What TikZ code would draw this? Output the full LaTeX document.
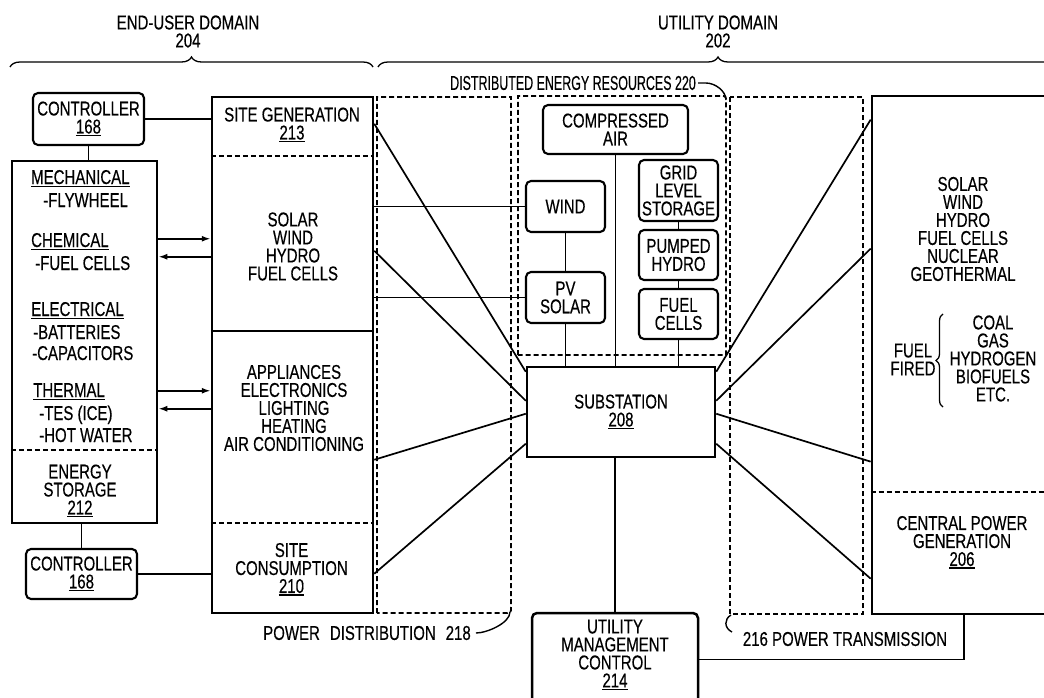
\documentclass[tikz,border=0pt]{standalone}
\usepackage{fontspec}
\setmainfont[FakeStretch=0.75,FakeBold=0.35]{Liberation Sans}
\usetikzlibrary{arrows.meta,calc,decorations.pathreplacing}
\newcommand{\uln}[1]{\setbox0\hbox{#1}\rlap{\rule[-3pt]{\wd0}{1.5pt}}\box0}
\begin{document}
\begin{tikzpicture}[x=1pt,y=-1pt,
  every node/.style={font=\fontsize{20}{18}\selectfont},
  txt/.style={inner sep=0pt, align=center},
  box/.style={draw, line width=2.5pt, inner sep=0pt, align=center},
  rbox/.style={draw, line width=2.1pt, rounded corners=5pt, inner sep=0pt, align=center},
  dbox/.style={line width=1.8pt, dash pattern=on 5pt off 3pt},
  wire/.style={line width=1.7pt},
  thin wire/.style={line width=1.2pt},
  arr/.style={line width=2pt, -{Latex[length=9pt,width=6pt]}},
  bracesty/.style={line width=1.3pt, decorate, decoration={brace, amplitude=10pt}},
  hook/.style={line width=1.4pt},
]
\path[use as bounding box, fill=white] (0,0) rectangle (1044,698);

% domain labels and braces
\node[txt] (eud) at (188,31.5) {END-USER DOMAIN\\204};
\node[txt] (ud) at (718,31.5) {UTILITY DOMAIN\\202};
\draw[bracesty] (10,67) -- (373,67);
\draw[bracesty] (378,67) -- (1058,67);

% end-user column
\node[rbox, minimum width=111pt, minimum height=52pt] (ctrlA) at (88.5,119) {CONTROLLER\\\uln{168}};
\node[box, minimum width=145pt, minimum height=362pt] (es) at (84.5,342) {};
\draw[dbox] ($(es.north west)+(0,290)$) -- ($(es.north east)+(0,290)$);
\node[txt, anchor=base west] (m1) at (31,184) {\uln{MECHANICAL}};
\node[txt, anchor=base west] (m2) at (43,207) {-FLYWHEEL};
\node[txt, anchor=base west] (c1) at (31,247) {\uln{CHEMICAL}};
\node[txt, anchor=base west] (c2) at (35,270) {-FUEL CELLS};
\node[txt, anchor=base west] (e1) at (31,316) {\uln{ELECTRICAL}};
\node[txt, anchor=base west] (e2) at (33,339) {-BATTERIES};
\node[txt, anchor=base west] (e3) at (32,360) {-CAPACITORS};
\node[txt, anchor=base west] (t1) at (33,397) {\uln{THERMAL}};
\node[txt, anchor=base west] (t2) at (39,420) {-TES (ICE)};
\node[txt, anchor=base west] (t3) at (39,442) {-HOT WATER};
\node[txt] (esl) at (80,491) {ENERGY\\STORAGE\\\uln{212}};
\node[rbox, minimum width=111pt, minimum height=50pt] (ctrlB) at (81.5,574) {CONTROLLER\\\uln{168}};

% site box
\node[box, minimum width=161pt, minimum height=516pt] (site) at (292.5,355) {};
\draw[dbox] ($(site.north west)+(0,60)$) -- ($(site.north east)+(0,60)$);
\draw[wire] ($(site.north west)+(0,235)$) -- ($(site.north east)+(0,235)$);
\draw[dbox] ($(site.north west)+(0,427)$) -- ($(site.north east)+(0,427)$);
\node[txt] (sg) at (292,125) {SITE GENERATION\\\uln{213}};
\node[txt] (sgl) at (293,246.5) {SOLAR\\WIND\\HYDRO\\FUEL CELLS};
\node[txt] (app) at (294,408) {APPLIANCES\\ELECTRONICS\\LIGHTING\\HEATING\\AIR CONDITIONING};
\node[txt] (sc) at (291.5,569.5) {SITE\\CONSUMPTION\\\uln{210}};

% power distribution
\draw[dbox] (377,613) -- (377,97) -- (511,97) -- (511,607) .. controls (511,613) .. (505,613) -- cycle;
\node[txt] (pdl) at (367,633) {POWER\hspace{10pt}DISTRIBUTION\hspace{10pt}218};
\coordinate (pdc) at (510,612);
\draw[hook] ($(pdl.east)+(5,0)$) .. controls +(11,0) and +(0,11) .. (pdc);

% distributed energy resources
\draw[dbox] (518,355) -- (518,96) -- (720,96) .. controls (726,96) .. (726,102) -- (726,355) -- cycle;
\node[txt, anchor=west] (derl) at (450,83) {\scalebox{0.83}[1]{DISTRIBUTED ENERGY RESOURCES 220}};
\coordinate (derc) at (726,100);
\draw[hook] ($(derl.east)+(2,0)$) -- ++(8,0) .. controls +(9,0) and +(0,-9) .. (derc);
\node[rbox, minimum width=145pt, minimum height=49pt] (cair) at (615.5,129.5) {COMPRESSED\\AIR};
\node[rbox, minimum width=79pt, minimum height=51pt] (wind) at (565.5,206.5) {WIND};
\node[rbox, minimum width=79pt, minimum height=51pt] (pv) at (565.5,297.5) {PV\\SOLAR};
\node[rbox, minimum width=79pt, minimum height=61pt] (grid) at (678.5,190.5) {GRID\\LEVEL\\STORAGE};
\node[rbox, minimum width=79pt, minimum height=50pt] (pump) at (678.5,255) {PUMPED\\HYDRO};
\node[rbox, minimum width=79pt, minimum height=50pt] (fuel) at (678.5,314) {FUEL\\CELLS};

% substation and utility management
\node[box, minimum width=188pt, minimum height=90pt] (sub) at (621,412) {SUBSTATION\\\uln{208}};
\node[rbox, line width=2.5pt, minimum width=166pt, minimum height=93pt] (umc) at (615,659.5) {};
\node[txt] (umct) at (615,655) {UTILITY\\MANAGEMENT\\CONTROL\\\uln{214}};

% power transmission
\draw[dbox] (730,97) rectangle (863,614);
\node[txt] (ptl) at (845,639) {216 POWER TRANSMISSION};
\coordinate (ptc) at (731,615);
\coordinate (ptd) at (732,632);
\draw[hook] (ptc) .. controls (724,619) and (724,628) .. (ptd);

% central power generation
\node[box, line width=2.7pt, minimum width=188pt, minimum height=518pt] (cpg) at (966,355) {};
\draw[dbox] ($(cpg.north west)+(0,397)$) -- ($(cpg.north east)+(0,397)$);
\node[txt] (cpgl) at (963,229) {SOLAR\\WIND\\HYDRO\\FUEL CELLS\\NUCLEAR\\GEOTHERMAL};
\node[txt] (ff) at (913,359.5) {FUEL\\FIRED};
\draw[line width=1.3pt, decorate, decoration={brace, amplitude=7pt}] (943,407) -- (943,314);
\node[txt] (ffl) at (993,358.5) {COAL\\GAS\\HYDROGEN\\BIOFUELS\\ETC.};
\node[txt] (cpgt) at (962,542.5) {CENTRAL POWER\\GENERATION\\\uln{206}};

% connectors: end-user side
\draw[wire] (ctrlA.east) -- (ctrlA.east -| site.west);
\draw[wire] (ctrlA.south) -- (ctrlA.south |- es.north);
\draw[wire] (ctrlB.north) -- (ctrlB.north |- es.south);
\draw[wire] (ctrlB.east) -- (ctrlB.east -| site.west);
\draw[arr] ($(es.north east)+(0,79)$) -- ($(site.north west)+(0,143)$);
\draw[arr] ($(site.north west)+(0,161)$) -- ($(es.north east)+(0,97)$);
\draw[arr] ($(es.north east)+(0,231)$) -- ($(site.north west)+(0,295)$);
\draw[arr] ($(site.north west)+(0,313)$) -- ($(es.north east)+(0,249)$);

% site to resources / substation
\draw[thin wire] (wind.west) -- (wind.west -| site.east);
\draw[wire] (pv.west) -- (pv.west -| site.east);
\draw[wire] ($(site.north east)+(0,28)$) -- ($(sub.north west)+(0,6)$);
\draw[wire] ($(site.north east)+(0,155)$) -- ($(sub.north west)+(0,35)$);
\draw[wire] ($(site.north east)+(0,364)$) -- ($(sub.north west)+(0,48)$);
\draw[wire] ($(site.north east)+(0,478)$) -- ($(sub.north west)+(0,78)$);

% resources internal
\draw[thin wire] (wind) -- (pv);
\draw[thin wire] (pv.south) -- (pv.south |- sub.north);
\draw[thin wire] (cair.south) -- (cair.south |- sub.north);
\draw[thin wire] (grid) -- (pump);
\draw[thin wire] (pump) -- (fuel);
\draw[wire] (fuel.south) -- (fuel.south |- sub.north);

% substation to central generation
\draw[wire] ($(sub.north east)+(0,6)$) -- ($(cpg.north west)+(0,25)$);
\draw[wire] ($(sub.north east)+(0,35)$) -- ($(cpg.north west)+(0,154)$);
\draw[wire] ($(sub.north east)+(0,48)$) -- ($(cpg.north west)+(0,367)$);
\draw[wire] ($(sub.north east)+(0,78)$) -- ($(cpg.north west)+(0,484)$);

% management
\draw[wire] (umc.north) -- (umc.north |- sub.south);
\draw[wire] (umc.east) -| ($(cpg.south west)+(93,0)$);
\end{tikzpicture}
\end{document}
